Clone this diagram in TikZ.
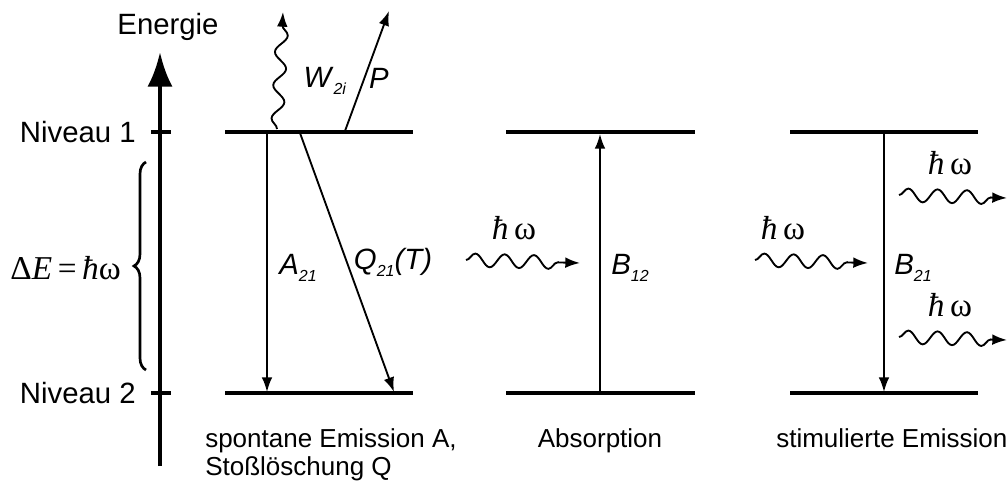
\documentclass[tikz,border=0pt]{standalone}
\usepackage{fontspec}
\setmainfont{Liberation Sans}
\newfontfamily\symfont{Liberation Serif}
\usetikzlibrary{arrows.meta,decorations.pathmorphing,decorations.pathreplacing}

\newcommand{\rate}[2]{\textit{#1}\raisebox{-0.45ex}{\fontsize{12}{12}\selectfont\textit{#2}}}
\newcommand{\hbaromega}{{\symfont\fontsize{25}{28}\selectfont\textit{ħ}\,ω}}

\begin{document}
\begin{tikzpicture}[
  x=0.75pt, y=-0.75pt,
  font=\fontsize{22}{26}\selectfont,
  level/.style={line width=3.6pt},
  axis/.style={-{Latex[length=26pt,width=19pt]}, line width=3.6pt},
  tick/.style={line width=2.4pt},
  trans/.style={-{Latex[length=11pt,width=8pt]}, line width=1.4pt},
  photon/.style={-{Latex[length=11pt,width=8pt]}, line width=1.4pt, decorate,
    decoration={snake, amplitude=5pt, segment length=22pt, post length=7pt}},
  caption/.style={font=\fontsize{19.5}{23}\selectfont, inner sep=0pt}
]
\useasboundingbox (0,0) rectangle (1007,485);

% Energy axis with level ticks.
\coordinate (axbot) at (160,466);
\coordinate (axtop) at (160,52);
\draw[axis] (axbot) -- (axtop);
\node (energie) at (168,27) {Energie};
\draw[tick] (151,132) -- (171,132);
\draw[tick] (151,393) -- (171,393);
\node[anchor=east, inner sep=0pt] (niv1) at (136,132) {Niveau 1};
\node[anchor=east, inner sep=0pt] (niv2) at (136,393) {Niveau 2};

\draw[decorate, decoration={brace, amplitude=9pt}, line width=2pt]
  (146,370) -- (146,162);
\node[anchor=east, inner sep=0pt] (deltaE) at (121,268)
  {\symfont\fontsize{25}{28}\selectfont Δ\textit{E}\,=\,\textit{ħ}ω};

% Spontaneous emission and quenching.
\coordinate (spUL) at (225,132);
\coordinate (spUR) at (413,132);
\coordinate (spLL) at (225,393);
\coordinate (spLR) at (413,393);
\draw[level] (spUL) -- (spUR);
\draw[level] (spLL) -- (spLR);

\coordinate (aTop) at (267,132);
\coordinate (aBot) at (267,392);
\draw[trans] (aTop) -- (aBot);
\node (lblA) at (298,268) {\rate{A}{21}};

\coordinate (qTop) at (300,133);
\coordinate (qBot) at (394,392);
\draw[trans] (qTop) -- (qBot);
\node (lblQ) at (393,262) {\rate{Q}{21}\textit{(T)}};

\coordinate (wBot) at (277,129);
\coordinate (wTop) at (283,12);
\draw[photon, decoration={segment length=25pt, amplitude=4.5pt}] (wBot) -- (wTop);
\node (lblW) at (325,81) {\rate{W}{2i}};

\coordinate (pBot) at (345,131);
\coordinate (pTop) at (389,11);
\draw[trans] (pBot) -- (pTop);
\node (lblP) at (379,78) {\textit{P}};

\node[caption, anchor=base west] (capSp1) at (205,447) {spontane Emission A,};
\node[caption, anchor=base west] (capSp2) at (205,475) {Stoßlöschung Q};

% Absorption.
\coordinate (abUL) at (506,132);
\coordinate (abUR) at (695,132);
\coordinate (abLL) at (506,393);
\coordinate (abLR) at (695,393);
\draw[level] (abUL) -- (abUR);
\draw[level] (abLL) -- (abLR);

\coordinate (bBot) at (600,392);
\coordinate (bTop) at (600,134);
\draw[trans] (bBot) -- (bTop);
\node (lblB12) at (630,268) {\rate{B}{12}};

\coordinate (phAbIn) at (466,260);
\coordinate (phAbOut) at (580,263);
\draw[photon] (phAbIn) -- (phAbOut);
\node (hwAb) at (514,228) {\hbaromega};

\node[caption, anchor=base] (capAb) at (600,447) {Absorption};

% Stimulated emission.
\coordinate (stUL) at (790,132);
\coordinate (stUR) at (978,132);
\coordinate (stLL) at (790,393);
\coordinate (stLR) at (978,393);
\draw[level] (stUL) -- (stUR);
\draw[level] (stLL) -- (stLR);

\coordinate (sTop) at (884,132);
\coordinate (sBot) at (884,392);
\draw[trans] (sTop) -- (sBot);
\node (lblB21) at (913,268) {\rate{B}{21}};

\coordinate (phStIn) at (755,260);
\coordinate (phStOut) at (868,263);
\draw[photon] (phStIn) -- (phStOut);
\node (hwStIn) at (783,228) {\hbaromega};

\coordinate (phUpIn) at (899,195);
\coordinate (phUpOut) at (1007,198);
\draw[photon] (phUpIn) -- (phUpOut);
\node (hwUp) at (950,163) {\hbaromega};

\coordinate (phLoIn) at (899,337);
\coordinate (phLoOut) at (1007,340);
\draw[photon] (phLoIn) -- (phLoOut);
\node (hwLo) at (950,305) {\hbaromega};

\node[caption, anchor=base west] (capSt) at (776,447) {stimulierte Emission};

\end{tikzpicture}
\end{document}
